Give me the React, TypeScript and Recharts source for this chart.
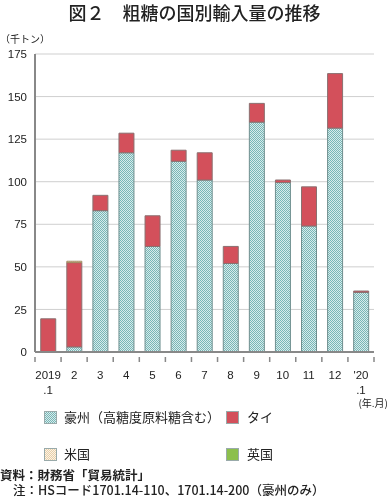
import { BarChart, Bar, XAxis, YAxis, CartesianGrid } from "recharts";

const months = ["2019", "2", "3", "4", "5", "6", "7", "8", "9", "10", "11", "12", "'20"];
const subLabels = [".1", "", "", "", "", "", "", "", "", "", "", "", ".1"];
const australia = [0, 3, 83, 117, 62, 112, 101, 52, 135, 99.5, 74, 131.5, 35];
const thailand = [19.5, 49.5, 9, 11.5, 18, 6.5, 16, 10, 11, 1.5, 23, 32, 0.8];
const usa = [0, 0.8, 0, 0, 0, 0, 0, 0, 0, 0, 0, 0, 0];
const uk = [0, 0, 0, 0, 0, 0, 0, 0, 0, 0, 0, 0, 0];
const yTicks = [0, 25, 50, 75, 100, 125, 150, 175];

const data = months.map((m, i) => ({
  month: m,
  sub: subLabels[i],
  australia: australia[i],
  thailand: thailand[i],
  usa: usa[i],
  uk: uk[i],
}));

const FONT = '"Liberation Sans", "Noto Sans CJK JP", sans-serif';
const JP = '"Noto Sans CJK JP", sans-serif';

const PLOT_LEFT = 35;
const PLOT_RIGHT = 374;
const STEP = (PLOT_RIGHT - PLOT_LEFT) / months.length;

const MonthTick = (props: any) => {
  const { x, y, payload, index } = props;
  const half = STEP / 2;
  return (
    <g>
      <line x1={x - half} x2={x - half} y1={y - 3} y2={y + 2} stroke="#888" strokeWidth={1.5} />
      {index === months.length - 1 && (
        <line x1={x + half} x2={x + half} y1={y - 3} y2={y + 2} stroke="#888" strokeWidth={1.5} />
      )}
      <text x={x} y={y + 19} textAnchor="middle" fontSize={11.5} fill="#222" fontFamily={FONT}>
        {payload.value}
      </text>
      <text x={x} y={y + 34} textAnchor="middle" fontSize={11.5} fill="#222" fontFamily={FONT}>
        {subLabels[index]}
      </text>
    </g>
  );
};

const swatch = (left: number, top: number, bg: string) => (
  <div
    style={{
      position: "absolute",
      left,
      top,
      width: 13,
      height: 13,
      background: bg,
      border: "1px solid #9aa",
      boxSizing: "border-box",
    }}
  />
);

const label = (left: number, top: number, text: string) => (
  <div
    style={{
      position: "absolute",
      left,
      top,
      fontSize: 13,
      fontFamily: JP,
      color: "#222",
      lineHeight: "16px",
      whiteSpace: "nowrap",
    }}
  >
    {text}
  </div>
);

const ausBg = "repeating-conic-gradient(#78b7b7 0% 25%, #d8ebeb 0% 50%) 0 0 / 2px 2px";
const usBg = "repeating-conic-gradient(#e8cfa8 0% 25%, #fbf3e6 0% 50%) 0 0 / 2px 2px";

export default function App() {
  return (
    <div style={{ position: "fixed", top: 0, left: 0, width: 389, height: 500, background: "#fff" }}>
      <div
        style={{
          position: "absolute",
          top: 1,
          left: 0,
          width: 389,
          textAlign: "center",
          fontSize: 18,
          fontFamily: JP,
          fontWeight: 500,
          color: "#222",
          lineHeight: "22px",
          whiteSpace: "nowrap",
        }}
      >
        図２　粗糖の国別輸入量の推移
      </div>
      <div style={{ position: "absolute", top: 31, left: 0, fontSize: 10, fontFamily: JP, color: "#222", whiteSpace: "nowrap" }}>
        （千トン）
      </div>
      <BarChart
        width={389}
        height={400}
        data={data}
        margin={{ top: 54, right: 15, left: 0, bottom: 8 }}
        barCategoryGap="22%"
      >
        <defs>
          <pattern id="ausPat" width="2" height="2" patternUnits="userSpaceOnUse">
            <rect width="2" height="2" fill="#d8ebeb" />
            <rect width="1" height="1" fill="#78b7b7" />
            <rect x="1" y="1" width="1" height="1" fill="#78b7b7" />
          </pattern>
          <pattern id="usPat" width="2" height="2" patternUnits="userSpaceOnUse">
            <rect width="2" height="2" fill="#fbf3e6" />
            <rect width="1" height="1" fill="#e8cfa8" />
            <rect x="1" y="1" width="1" height="1" fill="#e8cfa8" />
          </pattern>
        </defs>
        <CartesianGrid vertical={false} stroke="#cfcfcf" />
        <XAxis
          dataKey="month"
          interval={0}
          height={40}
          tickLine={false}
          axisLine={{ stroke: "#888", strokeWidth: 2 }}
          tick={<MonthTick />}
        />
        <YAxis
          width={35}
          domain={[0, 175]}
          ticks={yTicks}
          interval={0}
          tickLine={false}
          tickMargin={2}
          axisLine={{ stroke: "#888", strokeWidth: 2 }}
          tick={{ fontSize: 11.5, fill: "#222", fontFamily: FONT }}
        />
        <Bar dataKey="australia" stackId="a" fill="url(#ausPat)" stroke="#6f8f8f" strokeWidth={1} isAnimationActive={false} />
        <Bar dataKey="thailand" stackId="a" fill="#d3505b" stroke="#8a7070" strokeWidth={1} isAnimationActive={false} />
        <Bar dataKey="usa" stackId="a" fill="url(#usPat)" stroke="#a08a60" strokeWidth={1} isAnimationActive={false} />
        <Bar dataKey="uk" stackId="a" fill="#8cbf4c" stroke="#777" strokeWidth={1} isAnimationActive={false} />
      </BarChart>
      <div
        style={{
          position: "absolute",
          top: 397,
          right: 1,
          fontSize: 10,
          fontFamily: JP,
          color: "#222",
          lineHeight: "12px",
          whiteSpace: "nowrap",
        }}
      >
        (年.月)
      </div>
      {swatch(44, 411, ausBg)}
      {label(64, 409, "豪州（高糖度原料糖含む）")}
      {swatch(226, 411, "#d3505b")}
      {label(247, 409, "タイ")}
      {swatch(44, 448, usBg)}
      {label(64, 446, "米国")}
      {swatch(226, 448, "#8cbf4c")}
      {label(247, 446, "英国")}
      <div
        style={{
          position: "absolute",
          top: 468,
          left: 0,
          fontSize: 12.5,
          fontFamily: JP,
          fontWeight: 700,
          color: "#222",
          lineHeight: "14px",
          whiteSpace: "nowrap",
        }}
      >
        資料：財務省「貿易統計」
      </div>
      <div
        style={{
          position: "absolute",
          top: 483,
          left: 13,
          fontSize: 12.5,
          fontFamily: JP,
          fontWeight: 500,
          color: "#222",
          lineHeight: "14px",
          whiteSpace: "nowrap",
        }}
      >
        注：HSコード1701.14-110、1701.14-200（豪州のみ）
      </div>
    </div>
  );
}
